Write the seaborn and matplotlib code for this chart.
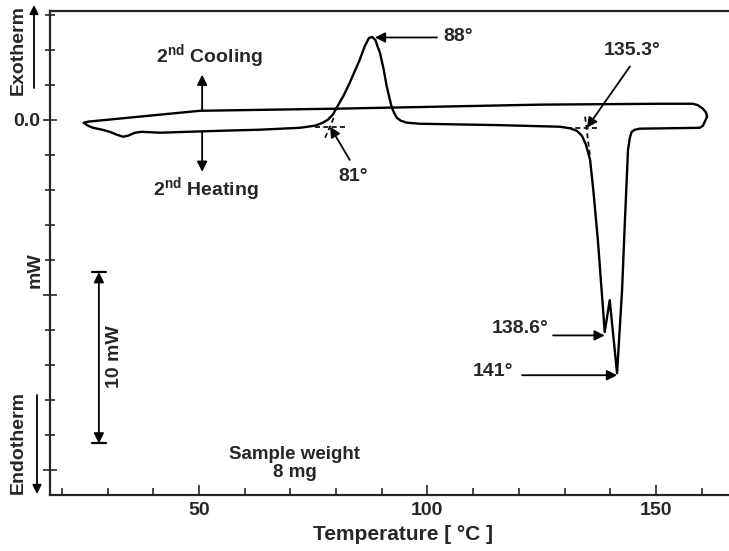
import numpy as np
import pandas as pd
import seaborn as sns
import matplotlib.pyplot as plt

# -------------------------------
# Dados lidos do termograma (T em °C, fluxo em mW)
# -------------------------------
heat_T = [24.8, 25.7, 26.8, 28.8, 30.5, 32.1, 33.4, 34.5, 36.0, 37.5, 41.5, 54.6, 63.3,
          72.1, 75.4, 77.1, 78.2, 79.3, 80.4, 81.7, 83.0, 85.2, 86.3, 87.2, 87.9, 88.6,
          89.2, 89.6, 90.4, 91.1, 92.2, 92.7, 93.3, 94.2, 95.5, 98.4, 115.9,
          129.0, 131.2, 132.7, 133.8, 134.7, 135.6, 136.3, 137.3, 138.4, 138.8, 139.9,
          141.5, 142.6, 143.2, 143.9, 144.3, 144.7, 145.4, 146.5, 159.6, 160.3, 160.7, 161.2]
heat_P = [-0.17, -0.34, -0.46, -0.57, -0.69, -0.86, -0.97, -0.91, -0.74, -0.69, -0.74, -0.63, -0.57,
          -0.46, -0.34, -0.17, 0.0, 0.29, 0.80, 1.40, 2.11, 3.43, 4.20, 4.66, 4.72, 4.55,
          4.10, 3.83, 2.90, 1.89, 0.69, 0.40, 0.11, -0.06, -0.17, -0.23, -0.31,
          -0.40, -0.49, -0.63, -0.91, -1.43, -2.29, -4.0, -6.86, -10.69, -12.11, -10.29,
          -14.46, -9.71, -5.89, -1.71, -1.03, -0.69, -0.57, -0.51, -0.46, -0.34, -0.11, 0.17]

cool_T = [161.2, 161.0, 160.3, 159.2, 158.1, 150.9, 124.6, 80.2, 50.2, 25.7, 24.8]
cool_P = [0.17, 0.40, 0.63, 0.83, 0.91, 0.91, 0.86, 0.63, 0.51, -0.11, -0.17]

# linhas de construção (onset)
onset81_T = [[75.4, 82.4], [77.6, 79.8]]
onset81_P = [[-0.40, -0.40], [-1.03, 0.29]]
onset135_T = [[130.5, 137.7], [134.5, 135.6]]
onset135_P = [[-0.46, -0.46], [0.17, -2.11]]

heat = pd.DataFrame({'T': heat_T, 'P': heat_P})
cool = pd.DataFrame({'T': cool_T, 'P': cool_P})

# -------------------------------
# Estilo
# -------------------------------
sns.set_style('ticks')
plt.rcParams['font.family'] = ['Liberation Sans', 'DejaVu Sans']
plt.rcParams['font.weight'] = 'bold'
plt.rcParams['mathtext.fontset'] = 'custom'
plt.rcParams['mathtext.rm'] = 'Liberation Sans:bold'
plt.rcParams['mathtext.bf'] = 'Liberation Sans:bold'

W, H = 729, 551
fig = plt.figure(figsize=(W / 100, H / 100), dpi=100)
ax = fig.add_axes([50 / W, 1 - 495 / H, 1 - 50 / W, (495 - 11) / H])

def px(x, y):
    return (x / W, 1 - y / H)

line_kw = dict(color='black', lw=1.7, solid_joinstyle='round', solid_capstyle='round')
sns.lineplot(data=heat, x='T', y='P', sort=False, ax=ax, **line_kw)
sns.lineplot(data=cool, x='T', y='P', sort=False, ax=ax, **line_kw)

for xs, ys in zip(onset81_T + onset135_T, onset81_P + onset135_P):
    ax.plot(xs, ys, color='black', lw=1.2, ls=(0, (3, 2)))

ax.set_xlim(17.4, 166)
ax.set_ylim(-21.4, 6.2)

# eixos
ax.spines['right'].set_visible(False)
for s in ['left', 'bottom', 'top']:
    ax.spines[s].set_linewidth(1.6)
ax.set_xticks([50, 100, 150])
ax.set_xticks(np.arange(20, 170, 10), minor=True)
ax.set_yticks([-20, -10, 0])
ax.set_yticklabels(['', '', '0.0'])
ax.set_yticks(np.arange(-20, 7, 2), minor=True)
ax.tick_params(axis='x', which='both', direction='in', labelsize=14, width=1.2, pad=5)
ax.tick_params(axis='x', which='major', length=7)
ax.tick_params(axis='x', which='minor', length=5)
ax.tick_params(axis='y', which='both', direction='inout', labelsize=14, width=1.2)
ax.tick_params(axis='y', which='major', length=10, pad=2)
ax.tick_params(axis='y', which='minor', length=7)
ax.set_xlabel('Temperature [ °C ]', fontsize=15, fontweight='bold')
ax.xaxis.set_label_coords(0.52, -0.063)
ax.set_ylabel('')

fs = 14
arr = dict(arrowstyle='-|>', color='black', lw=1.3, mutation_scale=15, shrinkA=0, shrinkB=0)

# anotações dos picos
ax.text(103.4, 4.75, '88°', fontsize=fs, fontweight='bold', ha='left', va='center')
ax.annotate('', xy=(88.5, 4.69), xytext=(102.1, 4.69), arrowprops=arr)
ax.text(83.7, -3.25, '81°', fontsize=fs, fontweight='bold', ha='center', va='center')
ax.annotate('', xy=(78.7, -0.4), xytext=(83.0, -2.29), arrowprops=arr)
ax.text(144.8, 3.95, '135.3°', fontsize=fs, fontweight='bold', ha='center', va='center')
ax.annotate('', xy=(134.9, -0.46), xytext=(144.3, 3.03), arrowprops=arr)
ax.text(126.6, -11.9, '138.6°', fontsize=fs, fontweight='bold', ha='right', va='center')
ax.annotate('', xy=(138.8, -12.3), xytext=(127.5, -12.3), arrowprops=arr)
ax.text(118.8, -14.35, '141°', fontsize=fs, fontweight='bold', ha='right', va='center')
ax.annotate('', xy=(141.5, -14.57), xytext=(120.7, -14.57), arrowprops=arr)

# cooling / heating
ax.text(52.2, 3.6, r'2$^{\mathbf{nd}}$ Cooling', fontsize=fs, fontweight='bold', ha='center', va='center')
ax.annotate('', xy=(50.7, 2.57), xytext=(50.7, 0.51), arrowprops=arr)
ax.text(51.5, -4.0, r'2$^{\mathbf{nd}}$ Heating', fontsize=fs, fontweight='bold', ha='center', va='center')
ax.annotate('', xy=(50.7, -2.97), xytext=(50.7, -0.69), arrowprops=arr)

# barra de escala 10 mW
ax.annotate('', xy=(28.1, -8.69), xytext=(28.1, -18.46),
            arrowprops=dict(arrowstyle='<|-|>', color='black', lw=1.3, mutation_scale=15,
                            shrinkA=0, shrinkB=0))
ax.plot([26.6, 29.6], [-8.69, -8.69], color='black', lw=1.6)
ax.plot([26.6, 29.6], [-18.46, -18.46], color='black', lw=1.6)
ax.text(31.6, -13.5, '10 mW', fontsize=fs, fontweight='bold', rotation=90, ha='center', va='center')

ax.text(71.0, -19.6, 'Sample weight\n8 mg', fontsize=13.5, fontweight='bold', ha='center',
        va='center', linespacing=1.05)

# rótulos fora do eixo
fig.text(*px(18, 50), 'Exotherm', fontsize=fs, fontweight='bold', rotation=90, ha='center', va='center')
fig.text(*px(18, 443), 'Endotherm', fontsize=fs, fontweight='bold', rotation=90, ha='center', va='center')
fig.text(*px(35, 270), 'mW', fontsize=fs, fontweight='bold', rotation=90, ha='center', va='center')
fig_arr = dict(arrowstyle='-|>', color='black', lw=1.3, mutation_scale=13, shrinkA=0, shrinkB=0)
ax.annotate('', xy=px(34, 5), xytext=px(34, 88), xycoords='figure fraction',
            textcoords='figure fraction', arrowprops=fig_arr, annotation_clip=False)
ax.annotate('', xy=px(37, 494), xytext=px(37, 395), xycoords='figure fraction',
            textcoords='figure fraction', arrowprops=fig_arr, annotation_clip=False)

plt.savefig('out.png', dpi=100)
